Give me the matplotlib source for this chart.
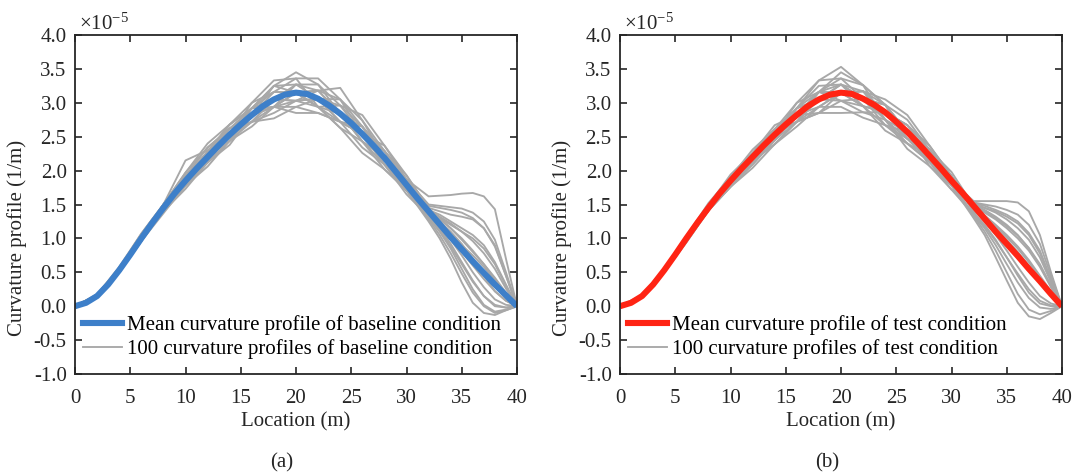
import matplotlib
matplotlib.use('Agg')
import matplotlib.pyplot as plt
from matplotlib.ticker import MultipleLocator, FormatStrFormatter
from matplotlib.lines import Line2D

plt.rcParams['font.family'] = ['Liberation Serif', 'DejaVu Serif']
plt.rcParams['mathtext.fontset'] = 'custom'
plt.rcParams['mathtext.rm'] = 'Liberation Serif'

# location (m) for the individual profiles, denser near the end where they fan out
loc = [0, 2, 4, 6, 8, 10, 12, 14, 16, 18, 20, 22, 24, 26, 28, 30,
       32, 33, 34, 35, 36, 37, 38, 39, 40]
# location (m) for the mean profiles
loc_mean = list(range(0, 41))

# curvature values in units of 1e-5 1/m
mean_a = [0, 0.05, 0.15, 0.32, 0.53, 0.76, 1.0, 1.23, 1.45, 1.66, 1.85, 2.03, 2.2, 2.37, 2.53, 2.68,
          2.82, 2.95, 3.05, 3.12, 3.15, 3.13, 3.06, 2.96, 2.84, 2.70, 2.54, 2.37, 2.19, 1.99, 1.79,
          1.59, 1.40, 1.21, 1.02, 0.84, 0.66, 0.49, 0.32, 0.16, 0]
mean_b = [0, 0.05, 0.15, 0.32, 0.53, 0.76, 1.0, 1.23, 1.45, 1.66, 1.85, 2.03, 2.2, 2.37, 2.53, 2.68,
          2.82, 2.95, 3.05, 3.12, 3.15, 3.13, 3.06, 2.97, 2.86, 2.72, 2.57, 2.40, 2.22, 2.04, 1.85,
          1.67, 1.48, 1.29, 1.10, 0.92, 0.74, 0.55, 0.37, 0.18, 0]

gray_a = [
    [0, 0.17, 0.56, 1.07, 1.50, 1.85, 2.12, 2.38, 2.82, 3.25, 3.45, 3.27, 2.84, 2.43, 2.19, 1.87, 1.62, 1.63, 1.64, 1.66, 1.67, 1.62, 1.43, 0.70, 0],
    [0, 0.13, 0.50, 1.00, 1.50, 1.97, 2.40, 2.68, 2.92, 3.05, 3.03, 2.94, 2.96, 2.82, 2.37, 1.87, 1.48, 1.45, 1.42, 1.38, 1.30, 1.15, 0.88, 0.45, 0],
    [0, 0.15, 0.56, 1.04, 1.45, 1.78, 2.06, 2.44, 2.92, 3.25, 3.27, 3.06, 2.72, 2.34, 2.09, 1.79, 1.40, 1.30, 1.20, 1.10, 1.00, 0.85, 0.62, 0.30, 0],
    [0, 0.13, 0.53, 0.96, 1.37, 1.78, 2.28, 2.68, 2.92, 2.94, 2.85, 2.85, 2.72, 2.54, 2.29, 1.93, 1.45, 1.40, 1.35, 1.32, 1.28, 1.15, 0.90, 0.45, 0],
    [0, 0.17, 0.53, 0.96, 1.40, 1.85, 2.28, 2.62, 2.82, 2.94, 3.03, 3.06, 3.05, 2.74, 2.29, 1.79, 1.30, 1.10, 0.85, 0.55, 0.25, 0.02, -0.08, -0.05, 0],
    [0, 0.15, 0.50, 0.96, 1.45, 1.92, 2.34, 2.62, 2.72, 2.85, 3.03, 3.18, 3.05, 2.65, 2.09, 1.71, 1.25, 1.00, 0.70, 0.35, 0.05, -0.10, -0.13, -0.06, 0],
    [0, 0.17, 0.56, 1.00, 1.40, 1.73, 2.12, 2.53, 2.92, 3.16, 3.36, 3.36, 3.05, 2.54, 2.09, 1.65, 1.32, 1.15, 0.92, 0.65, 0.38, 0.15, 0.00, -0.02, 0],
    [0, 0.13, 0.50, 0.96, 1.45, 1.92, 2.28, 2.53, 2.72, 2.77, 2.94, 3.06, 2.96, 2.65, 2.19, 1.71, 1.38, 1.25, 1.10, 0.92, 0.70, 0.45, 0.22, 0.08, 0],
    [0, 0.15, 0.53, 1.04, 1.50, 1.92, 2.20, 2.44, 2.72, 3.05, 3.27, 3.18, 2.84, 2.43, 2.09, 1.79, 1.35, 1.18, 0.98, 0.75, 0.50, 0.28, 0.10, 0.02, 0],
    [0, 0.17, 0.58, 1.07, 1.50, 2.15, 2.30, 2.53, 2.72, 2.94, 3.15, 2.94, 2.63, 2.26, 2.02, 1.71, 1.30, 1.12, 0.88, 0.62, 0.36, 0.15, 0.02, -0.02, 0],
    [0, 0.13, 0.50, 1.00, 1.45, 1.78, 2.12, 2.53, 3.00, 3.33, 3.36, 2.94, 2.63, 2.43, 2.19, 1.87, 1.50, 1.48, 1.46, 1.44, 1.38, 1.25, 0.98, 0.50, 0],
    [0, 0.15, 0.56, 1.00, 1.40, 1.85, 2.28, 2.68, 3.00, 3.16, 3.15, 2.94, 2.72, 2.54, 2.37, 1.93, 1.44, 1.30, 1.15, 0.98, 0.80, 0.62, 0.42, 0.20, 0],
    [0, 0.17, 0.53, 1.00, 1.50, 1.85, 2.12, 2.44, 2.82, 3.16, 3.15, 3.18, 3.22, 2.74, 2.19, 1.71, 1.36, 1.18, 1.00, 0.80, 0.60, 0.40, 0.22, 0.08, 0],
    [0, 0.13, 0.53, 1.04, 1.45, 1.78, 2.20, 2.62, 2.82, 2.94, 2.94, 2.85, 2.72, 2.65, 2.29, 1.79, 1.42, 1.32, 1.22, 1.10, 0.96, 0.78, 0.55, 0.26, 0],
    [0, 0.15, 0.50, 1.00, 1.50, 1.92, 2.20, 2.44, 2.65, 2.94, 3.27, 3.27, 2.96, 2.54, 2.09, 1.71, 1.33, 1.20, 1.05, 0.90, 0.75, 0.58, 0.38, 0.18, 0],
    [0, 0.17, 0.56, 1.04, 1.45, 1.85, 2.28, 2.62, 2.92, 3.25, 3.15, 2.94, 2.84, 2.65, 2.19, 1.79, 1.40, 1.28, 1.15, 1.00, 0.82, 0.62, 0.40, 0.18, 0],
    [0, 0.13, 0.53, 1.00, 1.40, 1.78, 2.20, 2.53, 2.72, 3.05, 3.03, 3.06, 2.72, 2.54, 2.29, 1.87, 1.42, 1.35, 1.25, 1.15, 1.05, 0.90, 0.65, 0.32, 0],
    [0, 0.15, 0.50, 0.96, 1.50, 1.97, 2.34, 2.62, 2.82, 2.94, 3.15, 3.18, 2.84, 2.43, 2.02, 1.71, 1.28, 1.05, 0.78, 0.48, 0.20, 0.00, -0.10, -0.06, 0],
]

gray_b = [
    [0, 0.14, 0.51, 1.00, 1.45, 1.80, 2.14, 2.53, 3.00, 3.33, 3.53, 3.26, 2.75, 2.40, 2.13, 1.85, 1.55, 1.55, 1.55, 1.55, 1.53, 1.40, 1.05, 0.50, 0],
    [0, 0.14, 0.51, 0.94, 1.41, 1.85, 2.26, 2.67, 2.82, 2.85, 2.85, 2.86, 2.86, 2.67, 2.22, 1.78, 1.30, 1.05, 0.72, 0.38, 0.05, -0.15, -0.19, -0.10, 0],
    [0, 0.16, 0.55, 1.00, 1.41, 1.76, 2.04, 2.39, 2.72, 3.05, 3.27, 3.17, 2.75, 2.32, 2.07, 1.78, 1.50, 1.45, 1.40, 1.32, 1.22, 1.05, 0.78, 0.38, 0],
    [0, 0.15, 0.51, 0.97, 1.45, 1.90, 2.31, 2.61, 2.72, 2.85, 3.03, 3.06, 2.97, 2.75, 2.31, 1.85, 1.45, 1.32, 1.18, 1.02, 0.85, 0.65, 0.42, 0.20, 0],
    [0, 0.16, 0.53, 1.03, 1.52, 1.90, 2.14, 2.39, 2.72, 3.16, 3.45, 3.26, 2.97, 2.57, 2.13, 1.72, 1.35, 1.15, 0.90, 0.62, 0.35, 0.12, -0.02, -0.04, 0],
    [0, 0.14, 0.53, 1.03, 1.49, 1.85, 2.14, 2.45, 2.82, 3.16, 3.27, 3.06, 2.67, 2.40, 2.13, 1.85, 1.52, 1.48, 1.42, 1.35, 1.25, 1.08, 0.82, 0.40, 0],
    [0, 0.15, 0.55, 1.03, 1.45, 1.80, 2.09, 2.45, 2.92, 3.25, 3.27, 2.95, 2.67, 2.47, 2.31, 1.92, 1.42, 1.25, 1.05, 0.82, 0.58, 0.35, 0.15, 0.04, 0],
    [0, 0.14, 0.51, 1.00, 1.49, 1.94, 2.26, 2.53, 2.72, 2.94, 2.94, 2.78, 2.67, 2.57, 2.31, 1.98, 1.48, 1.38, 1.28, 1.15, 1.00, 0.82, 0.58, 0.28, 0],
    [0, 0.16, 0.55, 1.03, 1.45, 1.80, 2.14, 2.53, 2.92, 3.33, 3.36, 3.06, 2.75, 2.47, 2.22, 1.92, 1.38, 1.20, 0.98, 0.72, 0.45, 0.20, 0.04, 0.00, 0],
    [0, 0.15, 0.53, 0.97, 1.41, 1.80, 2.20, 2.61, 2.92, 3.05, 3.03, 2.95, 2.86, 2.67, 2.31, 1.85, 1.50, 1.42, 1.32, 1.20, 1.05, 0.85, 0.60, 0.30, 0],
    [0, 0.14, 0.50, 0.94, 1.41, 1.76, 2.14, 2.53, 2.92, 3.16, 3.15, 3.17, 3.05, 2.82, 2.37, 1.92, 1.40, 1.28, 1.12, 0.95, 0.76, 0.55, 0.34, 0.15, 0],
    [0, 0.15, 0.51, 1.00, 1.49, 1.85, 2.14, 2.39, 2.65, 2.94, 3.15, 3.17, 2.97, 2.57, 2.07, 1.72, 1.53, 1.50, 1.47, 1.42, 1.35, 1.20, 0.92, 0.45, 0],
    [0, 0.14, 0.53, 1.00, 1.41, 1.85, 2.26, 2.61, 2.82, 2.94, 3.15, 2.95, 2.59, 2.40, 2.22, 1.92, 1.46, 1.34, 1.20, 1.05, 0.88, 0.68, 0.45, 0.22, 0],
    [0, 0.16, 0.53, 0.97, 1.45, 1.90, 2.20, 2.45, 2.82, 3.16, 3.36, 3.26, 2.97, 2.47, 2.13, 1.85, 1.33, 1.10, 0.82, 0.50, 0.18, -0.05, -0.12, -0.07, 0],
    [0, 0.15, 0.55, 1.00, 1.41, 1.80, 2.20, 2.61, 3.00, 3.16, 3.03, 2.86, 2.75, 2.57, 2.31, 1.92, 1.44, 1.30, 1.15, 0.98, 0.80, 0.60, 0.38, 0.18, 0],
    [0, 0.14, 0.51, 0.97, 1.45, 1.85, 2.14, 2.45, 2.72, 2.85, 3.15, 3.17, 2.86, 2.47, 2.22, 1.85, 1.49, 1.40, 1.30, 1.18, 1.04, 0.86, 0.62, 0.30, 0],
    [0, 0.16, 0.53, 1.00, 1.49, 1.90, 2.20, 2.53, 2.92, 3.05, 3.27, 3.06, 2.97, 2.57, 2.13, 1.78, 1.36, 1.18, 0.96, 0.72, 0.48, 0.25, 0.08, 0.01, 0],
    [0, 0.15, 0.55, 1.03, 1.41, 1.76, 2.09, 2.45, 2.82, 3.16, 3.15, 2.95, 2.86, 2.67, 2.37, 1.92, 1.51, 1.45, 1.38, 1.28, 1.15, 0.98, 0.72, 0.35, 0],
]

panels = [
    (mean_a, gray_a, '#3D7FC9', 'baseline', '(a)'),
    (mean_b, gray_b, '#FF2414', 'test', '(b)'),
]

fig = plt.figure(figsize=(10.77, 4.74), dpi=100)
lefts = [75 / 1077, 620 / 1077]
grayColor = '#A8A8A8'
txtColor = '#262626'
fs = 15

for k, (meanVals, grayVals, color, cond, tag) in enumerate(panels):
    ax = fig.add_axes([lefts[k], 100 / 474, 442 / 1077, 339 / 474])
    for g in grayVals:
        ax.plot(loc, g, color=grayColor, linewidth=1.35)
    ax.plot(loc_mean, meanVals, color=color, linewidth=4.4, solid_capstyle='butt')

    ax.set_xlim(0, 40)
    ax.set_ylim(-1, 4)
    ax.xaxis.set_major_locator(MultipleLocator(5))
    ax.yaxis.set_major_locator(MultipleLocator(0.5))
    ax.yaxis.set_major_formatter(FormatStrFormatter('%.1f'))
    ax.tick_params(direction='in', top=True, right=True, length=5, width=1.2,
                   labelsize=fs, colors=txtColor, pad=6)
    ax.tick_params(axis='x', pad=11)
    for s in ax.spines.values():
        s.set_linewidth(1.3)
        s.set_color(txtColor)
    ax.set_xlabel('Location (m)', fontsize=fs, color=txtColor, labelpad=3)
    ax.set_ylabel('Curvature profile (1/m)', fontsize=fs, color=txtColor)
    ax.yaxis.set_label_coords(-0.108, 0.40)
    ax.text(0.01, 1.0, r'$\mathregular{\times10^{-5}}$', transform=ax.transAxes,
            fontsize=fs, color=txtColor, va='bottom', ha='left')

    handles = [Line2D([], [], color=color, linewidth=4.4),
               Line2D([], [], color=grayColor, linewidth=1.35)]
    labels = ['Mean curvature profile of %s condition' % cond,
              '100 curvature profiles of %s condition' % cond]
    ax.legend(handles, labels, loc='lower left', frameon=False, fontsize=fs,
              handlelength=1.85, handletextpad=0.25, labelspacing=0.2,
              borderaxespad=0.0, bbox_to_anchor=(0.0, 0.02))

    fig.text((lefts[k] + 442 / 1077 / 2) - 14 / 1077, 11 / 474, tag, fontsize=fs,
             color=txtColor, ha='center', va='center')

fig.savefig('out.png', dpi=100)
